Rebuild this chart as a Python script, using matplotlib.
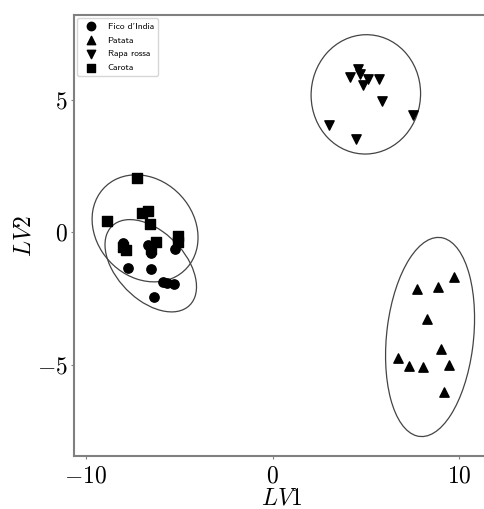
#!/usr/bin/env python3
"""Score plot LV1 vs LV2 with 95% confidence ellipses per class."""

import numpy as np
import matplotlib
matplotlib.use("Agg")
import matplotlib.pyplot as plt
from matplotlib.patches import Ellipse

plt.rcParams['font.family'] = 'serif'
plt.rcParams['font.serif'] = ['cmr10', 'DejaVu Serif']
plt.rcParams['mathtext.fontset'] = 'cm'
plt.rcParams['axes.formatter.use_mathtext'] = True

# scores
fico_x = [-8.02, -7.88, -6.68, -6.54, -5.21, -7.75, -6.54, -5.88, -5.64, -5.31, -6.38]
fico_y = [-0.40, -0.68, -0.49, -0.79, -0.62, -1.37, -1.41, -1.88, -1.94, -1.96, -2.44]

patata_x = [7.73, 8.86, 9.70, 8.29, 9.00, 6.72, 7.30, 8.06, 9.43, 9.18]
patata_y = [-2.16, -2.06, -1.69, -3.29, -4.43, -4.77, -5.06, -5.08, -5.02, -6.03]

rapa_x = [4.13, 4.57, 4.66, 4.81, 5.11, 5.70, 5.88, 7.52, 3.02, 4.48]
rapa_y = [5.86, 6.17, 5.96, 5.55, 5.76, 5.76, 4.94, 4.42, 4.04, 3.50]

carota_x = [-7.25, -8.88, -6.98, -6.68, -6.59, -5.08, -5.09, -8.02, -7.84, -6.27, -6.50]
carota_y = [2.03, 0.43, 0.73, 0.80, 0.30, -0.15, -0.38, -0.55, -0.68, -0.37, -0.62]

labels = ["Fico d'India", 'Patata', 'Rapa rossa', 'Carota']
markers = ['o', '^', 'v', 's']


def confidence_ellipse(ax, x, y, n_std=np.sqrt(5.991)):
    x = np.asarray(x)
    y = np.asarray(y)
    cov = np.cov(x, y)
    vals, vecs = np.linalg.eigh(cov)
    order = vals.argsort()[::-1]
    vals, vecs = vals[order], vecs[:, order]
    angle = np.degrees(np.arctan2(vecs[1, 0], vecs[0, 0]))
    w, h = 2 * n_std * np.sqrt(vals)
    e = Ellipse((x.mean(), y.mean()), w, h, angle=angle,
                facecolor='none', edgecolor='#444444', linewidth=0.9)
    ax.add_patch(e)


fig = plt.figure(figsize=(4.84, 5.09), dpi=100)
ax = fig.add_axes([0.1529, 0.1041, 0.86, 0.8664])

groups = [(fico_x, fico_y), (patata_x, patata_y), (rapa_x, rapa_y), (carota_x, carota_y)]
for (gx, gy), lab, m in zip(groups, labels, markers):
    ax.scatter(gx, gy, marker=m, s=45, color='black', label=lab, zorder=3)
    confidence_ellipse(ax, gx, gy)

ax.set_xlim(-10.64, 11.65)
ax.set_ylim(-8.45, 8.19)
ax.set_xticks([-10, 0, 10])
ax.set_yticks([-5, 0, 5])
ax.tick_params(labelsize=17, colors='#808080', labelcolor='black',
               length=2.5, pad=2)
ax.tick_params(axis='x', pad=4)
for sp in ax.spines.values():
    sp.set_color('#808080')
    sp.set_linewidth(1.5)

ax.set_xlabel('$LV1$', fontsize=17, labelpad=0)
ax.set_ylabel('$LV2$', fontsize=17, labelpad=1)

leg = ax.legend(loc='upper left', prop={'family': 'cmss10', 'size': 6.8},
                borderaxespad=0.35, labelspacing=0.55, markerscale=0.9)

fig.savefig('out.png', dpi=100)
